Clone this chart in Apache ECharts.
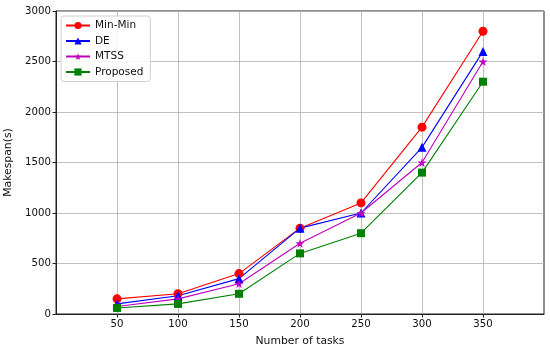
<!DOCTYPE html>
<html>
<head>
<meta charset="utf-8">
<script src="https://cdn.jsdelivr.net/npm/echarts@6/dist/echarts.min.js"></script>
<style>html,body{margin:0;padding:0;background:#fff}#c{width:550px;height:349px}</style>
</head>
<body>
<div id="c"></div>
<script>
const tasks = [50, 100, 150, 200, 250, 300, 350];
const minMin = [150, 200, 400, 850, 1100, 1850, 2800];
const de = [100, 180, 350, 850, 1000, 1650, 2600];
const mtss = [75, 150, 300, 700, 1000, 1500, 2500];
const proposed = [60, 100, 200, 600, 800, 1400, 2300];
const xTicks = [50, 100, 150, 200, 250, 300, 350];
const yTicks = [0, 500, 1000, 1500, 2000, 2500, 3000];

const star = 'path://M50,0 L61,35 L98,35 L68,57 L79,91 L50,70 L21,91 L32,57 L2,35 L39,35 Z';
const font = 'DejaVu Sans';
function pairs(v){ return tasks.map((t,i)=>[t, v[i]]); }
function mk(name, data, color, symbol, size){
  return {name, type:'line', data:pairs(data), symbol, symbolSize:size,
    lineStyle:{color, width:1.1}, itemStyle:{color}, z:3, animation:false};
}
const chart = echarts.init(document.getElementById('c'), null, {renderer:'canvas'});
chart.setOption({
  animation:false,
  grid:{left:56, right:6, top:11, bottom:35, outerBoundsMode:'none', containLabel:false,
    show:true, borderColor:'#222', borderWidth:1, backgroundColor:'transparent'},
  legend:{
    orient:'vertical', left:61, top:16, itemWidth:24, itemHeight:9, itemGap:4.5,
    padding:[4,7,4,4], borderColor:'#d0d0d0', borderWidth:1, borderRadius:3, backgroundColor:'rgba(255,255,255,0.85)',
    textStyle:{fontFamily:font, fontSize:10.5, color:'#111'},
    data:['Min-Min','DE','MTSS','Proposed']
  },
  xAxis:{
    type:'value', min:0, max:400, interval:50,
    name:'Number of tasks', nameLocation:'middle', nameGap:22,
    nameTextStyle:{fontFamily:font, fontSize:10.8, color:'#111'},
    axisLine:{show:true, lineStyle:{color:'#222', width:1}},
    axisTick:{show:true, length:3.5, lineStyle:{color:'#222'}, customValues:xTicks},
    axisLabel:{fontFamily:font, fontSize:10.2, color:'#111', margin:5, customValues:xTicks, formatter:v=>String(v)},
    splitLine:{show:true, lineStyle:{color:'#b0b0b0', width:0.8}}
  },
  yAxis:{
    type:'value', min:0, max:3000, interval:500,
    name:'Makespan(s)', nameLocation:'middle', nameGap:37,
    nameTextStyle:{fontFamily:font, fontSize:10.8, color:'#111'},
    axisLine:{show:true, lineStyle:{color:'#222', width:1}},
    axisTick:{show:true, length:3.5, lineStyle:{color:'#222'}, customValues:yTicks},
    axisLabel:{fontFamily:font, fontSize:10.2, color:'#111', margin:5, customValues:yTicks, formatter:v=>String(v)},
    splitLine:{show:true, lineStyle:{color:'#b0b0b0', width:0.8}}
  },
  series:[
    mk('Min-Min', minMin, '#ff0000', 'circle', 9),
    mk('DE', de, '#0000ff', 'triangle', 9),
    mk('MTSS', mtss, '#bf00bf', star, 9),
    mk('Proposed', proposed, '#008000', 'rect', 8)
  ]
});
</script>
</body>
</html>
